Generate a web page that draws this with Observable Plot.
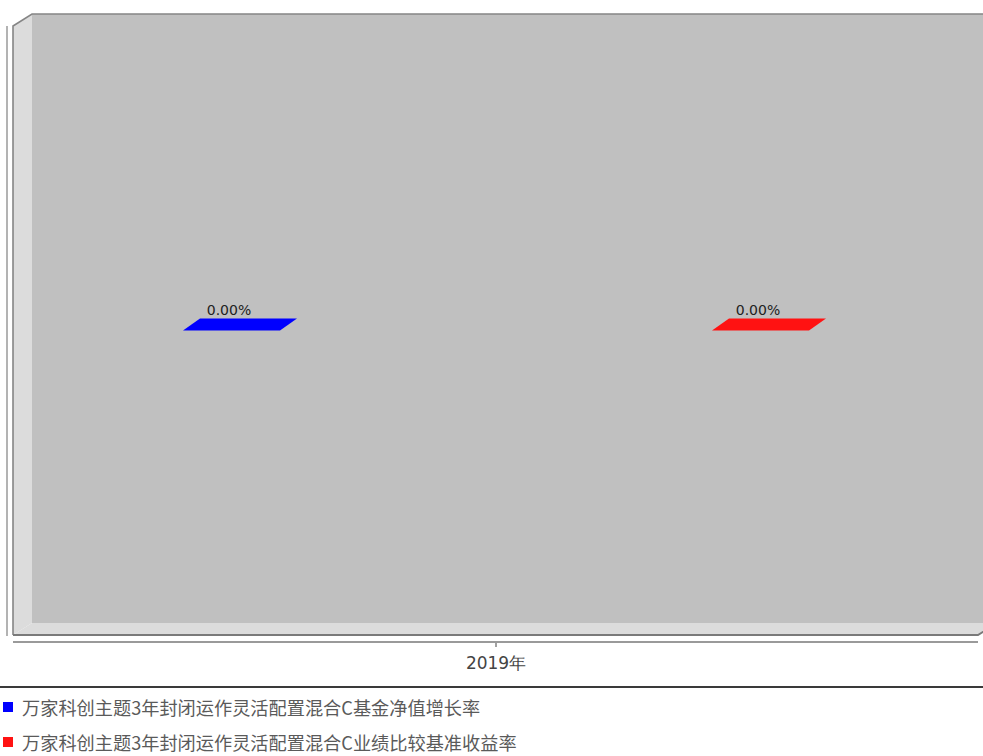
<!DOCTYPE html>
<html><head><meta charset="utf-8">
<script src="https://cdn.jsdelivr.net/npm/d3@7"></script>
<script src="https://cdn.jsdelivr.net/npm/@observablehq/plot@0.6"></script>
<style>
html,body{margin:0;padding:0;background:#fff;overflow:hidden;}
#legend{border-top:2px solid #3a3a3a;width:983px;padding-top:1px;font-family:"Noto Sans CJK SC","Noto Sans",sans-serif;font-size:18.2px;color:#5a5a5a;}
.item{height:35px;display:flex;align-items:center;white-space:nowrap;}
.sw{width:10px;height:10px;margin-left:3px;margin-right:9px;flex:none;}
</style></head><body>
<div id="chart"></div>
<div id="legend"></div>
<script>
// ---- data ----
const categories = ["2019年"];
const seriesNames = [
  "万家科创主题3年封闭运作灵活配置混合C基金净值增长率",
  "万家科创主题3年封闭运作灵活配置混合C业绩比较基准收益率"
];
const values2019 = [0.00, 0.00];
const seriesColors = ["#0000ff", "#ff1212"];
const yDomain = [-1, 1];

const data = seriesNames.map((s, i) => ({cat: categories[0], series: s, value: values2019[i]}));
const fmt = v => d3.format(".2f")(v) + "%";

// 3D depth offsets
const DX = 19, DY = 12, BDX = 17, BDY = 12;

function walls(index, scales, values, dim) {
  const x0 = dim.marginLeft, x1 = dim.width - dim.marginRight;
  const yb = scales.y(yDomain[0]), yt = scales.y(yDomain[1]);
  const axisY = dim.height - dim.marginBottom;
  const g = d3.create("svg:g");
  g.append("rect").attr("x", x0 + DX).attr("y", yt - DY).attr("width", x1 - x0).attr("height", yb - yt).attr("fill", "#c0c0c0");
  g.append("path").attr("d", `M${x0},${yt}L${x0+DX},${yt-DY}L${x0+DX},${yb-DY}L${x0},${yb}Z`).attr("fill", "#dcdcdc");
  g.append("path").attr("d", `M${x0},${yb}L${x0+DX},${yb-DY}L${x1+DX},${yb-DY}L${x1},${yb}Z`).attr("fill", "#dcdcdc");
  // outlines
  g.append("path").attr("d", `M${x0},${yb}L${x0},${yt}L${x0+DX},${yt-DY}L${x1+DX+20},${yt-DY}`)
    .attr("fill", "none").attr("stroke", "#858585").attr("stroke-width", 1.6);
  g.append("path").attr("d", `M${x0},${yb}L${x1},${yb}L${x1+DX},${yb-DY}`)
    .attr("fill", "none").attr("stroke", "#7a7a7a").attr("stroke-width", 2);
  // axis lines
  g.append("line").attr("x1", x0 - 6).attr("x2", x0 - 6).attr("y1", yt).attr("y2", yb + 1)
    .attr("stroke", "#9a9a9a").attr("stroke-width", 1.5);
  g.append("line").attr("x1", x0).attr("x2", x1).attr("y1", axisY).attr("y2", axisY)
    .attr("stroke", "#9a9a9a").attr("stroke-width", 2);
  return g.node();
}

function topFaces(index, scales, values, dim) {
  const g = d3.create("svg:g");
  const w = scales.x.bandwidth();
  data.forEach((d, i) => {
    const x = scales.x(d.series), y = scales.y(d.value);
    g.append("path")
      .attr("d", `M${x},${y}L${x+w},${y}L${x+w+BDX},${y-BDY}L${x+BDX},${y-BDY}Z`)
      .attr("fill", seriesColors[i]);
  });
  return g.node();
}

const chart = Plot.plot({
  width: 983, height: 686,
  marginLeft: 13, marginRight: 5, marginTop: 26, marginBottom: 44,
  style: {background: "transparent", overflow: "hidden", fontSize: "17px", color: "#444", fontFamily: "'DejaVu Sans', sans-serif"},
  fx: {domain: categories, padding: 0, label: null, axis: "bottom", tickSize: 5, tickPadding: 9},
  x: {domain: seriesNames, axis: null, paddingInner: 0.8168, paddingOuter: 0.3197, align: 0.5},
  y: {domain: yDomain, range: [635, 26], axis: null},
  color: {domain: seriesNames, range: seriesColors},
  marks: [
    walls,
    Plot.barY(data, {fx: "cat", x: "series", y: "value", fill: "series"}),
    topFaces,
    Plot.text(data, {fx: "cat", x: "series", y: "value", text: d => fmt(d.value),
      dy: -16, dx: -3, lineAnchor: "bottom", fontSize: 14, fill: "#222", letterSpacing: "0.5px"})
  ]
});
document.getElementById("chart").appendChild(chart);

const legend = document.getElementById("legend");
seriesNames.forEach((s, i) => {
  const item = document.createElement("div");
  item.className = "item";
  const sw = document.createElement("span");
  sw.className = "sw"; sw.style.background = seriesColors[i];
  const t = document.createElement("span");
  t.textContent = s;
  item.appendChild(sw); item.appendChild(t);
  legend.appendChild(item);
});
</script>
</body></html>
